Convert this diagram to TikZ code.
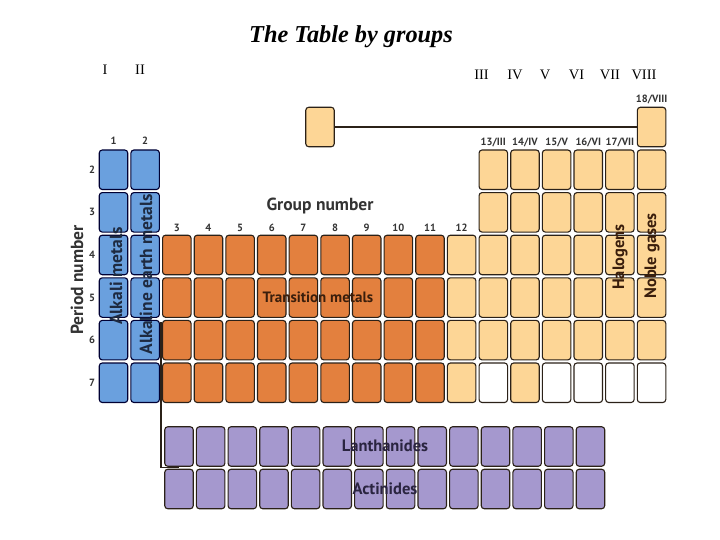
\documentclass[tikz,border=0pt]{standalone}
\usepackage{fontspec}
\setmainfont{Liberation Serif}
\newfontfamily\lab{PT Sans}
\definecolor{cblue}{HTML}{6AA0DE}
\definecolor{corange}{HTML}{E3803E}
\definecolor{clight}{HTML}{FDD696}
\definecolor{cpurple}{HTML}{A598CE}
\definecolor{cline}{HTML}{2B2118}
\definecolor{ctext}{HTML}{333333}
\definecolor{cbrown}{HTML}{3A1E0C}
\definecolor{cnavy}{HTML}{2A2440}
\definecolor{cbluetxt}{HTML}{1E2A40}
\begin{document}
\begin{tikzpicture}[x=1pt,y=-1pt,
  cell/.style={draw=cline, line width=1.1pt, rounded corners=3pt, minimum width=28.5pt, minimum height=39.5pt, inner sep=0pt},
  num/.style={font=\lab\bfseries\fontsize{10.5}{11}\selectfont, text=ctext, inner sep=0pt},
  biglab/.style={font=\lab\bfseries\fontsize{17.5}{18}\selectfont, text=ctext, inner sep=0pt},
  midlab/.style={font=\lab\bfseries\fontsize{16.5}{17}\selectfont, inner sep=0pt},
  roman/.style={font=\fontsize{14.5}{15}\selectfont, inner sep=0pt}]
\useasboundingbox (0,0) rectangle (720,540);
% title
\node[font=\bfseries\itshape\fontsize{24.3}{28}\selectfont, inner sep=0pt] (title) at (351,37) {The Table by groups};
\node[roman] (r1) at (105,70) {I};
\node[roman] (r2) at (140,70) {II};
\node[roman] (r3) at (481.5,75) {III};
\node[roman] (r4) at (515,75) {IV};
\node[roman] (r5) at (545,75) {V};
\node[roman] (r6) at (576.5,75) {VI};
\node[roman] (r7) at (610,75) {VII};
\node[roman] (r8) at (644,75) {VIII};
% period 1
\node[cell, fill=clight] (H) at (320,127) {};
\node[cell, fill=clight] (He) at (651.6,127) {};
\draw[cline, line width=1.6pt] (H.east) -- (He.west);
% blue
\foreach \c in {1,2}
  \foreach \r in {2,...,7}
    \node[cell, fill=cblue, draw=black!80!blue] (c\c-\r) at ({113.5+(\c-1)*31.65},{169.75+(\r-2)*42.6}) {};
% transition
\foreach \c in {3,...,11}
  \foreach \r in {4,...,7}
    \node[cell, fill=corange] (c\c-\r) at ({113.5+(\c-1)*31.65},{169.75+(\r-2)*42.6}) {};
\foreach \r in {4,...,7}
  \node[cell, fill=clight] (c12-\r) at ({113.5+11*31.65},{169.75+(\r-2)*42.6}) {};
\foreach \c in {13,...,18}
  \foreach \r in {2,...,6}
    \node[cell, fill=clight] (c\c-\r) at ({113.5+(\c-1)*31.65},{169.75+(\r-2)*42.6}) {};
\foreach \c/\f in {13/white,14/clight,15/white,16/white,17/white,18/white}
  \node[cell, fill=\f] (c\c-7) at ({113.5+(\c-1)*31.65},{169.75+5*42.6}) {};
% lanthanides / actinides
\foreach \i in {0,...,13}{
  \node[cell, fill=cpurple] (la\i) at ({179+\i*31.65},446.5) {};
  \node[cell, fill=cpurple] (ac\i) at ({179+\i*31.65},489) {};
}
\coordinate (bt) at (161,322);
\coordinate (bb) at (161,467.5);
\draw[cline, line width=1.6pt] (bt) -- (bb) -- (bb -| la0.center);
% group numbers
\node[num] (g1) at (c1-2 |- 0,141) {1};
\node[num] (g2) at (c2-2 |- 0,141) {2};
\foreach \c in {3,...,12}
  \node[num] (g\c) at (c\c-4 |- 0,228) {\c};
\foreach \c/\t in {13/{13/III},14/{14/IV},15/{15/V},16/{16/VI},17/{17/VII}}
  \node[num] (g\c) at (c\c-2 |- 0,142) {\t};
\node[num] (g18) at (He |- 0,99) {18/VIII};
% period numbers
\foreach \r in {2,...,7}
  \node[num] (p\r) at (92,{169.75+(\r-2)*42.6}) {\r};
% labels
\node[biglab, rotate=90] (pn) at (77,280) {Period number};
\node[biglab] (gn) at (320,206) {Group number};
\node[biglab, rotate=90, text=cbluetxt] (alk) at (116,276) {Alkali metals};
\node[biglab, rotate=90, text=cbluetxt] (alke) at (146,274) {Alkaline earth metals};
\node[midlab, text=cbrown, font=\lab\bfseries\fontsize{15}{16}\selectfont] (tm) at (318,297) {Transition metals};
\node[midlab, rotate=90, text=cbrown] (hal) at (620,257) {Halogens};
\node[midlab, rotate=90, text=cbrown] (ng) at (652,256) {Noble gases};
\node[midlab, text=cnavy] (lan) at (385,446) {Lanthanides};
\node[midlab, text=cnavy] (act) at (385,489) {Actinides};
\end{tikzpicture}
\end{document}
